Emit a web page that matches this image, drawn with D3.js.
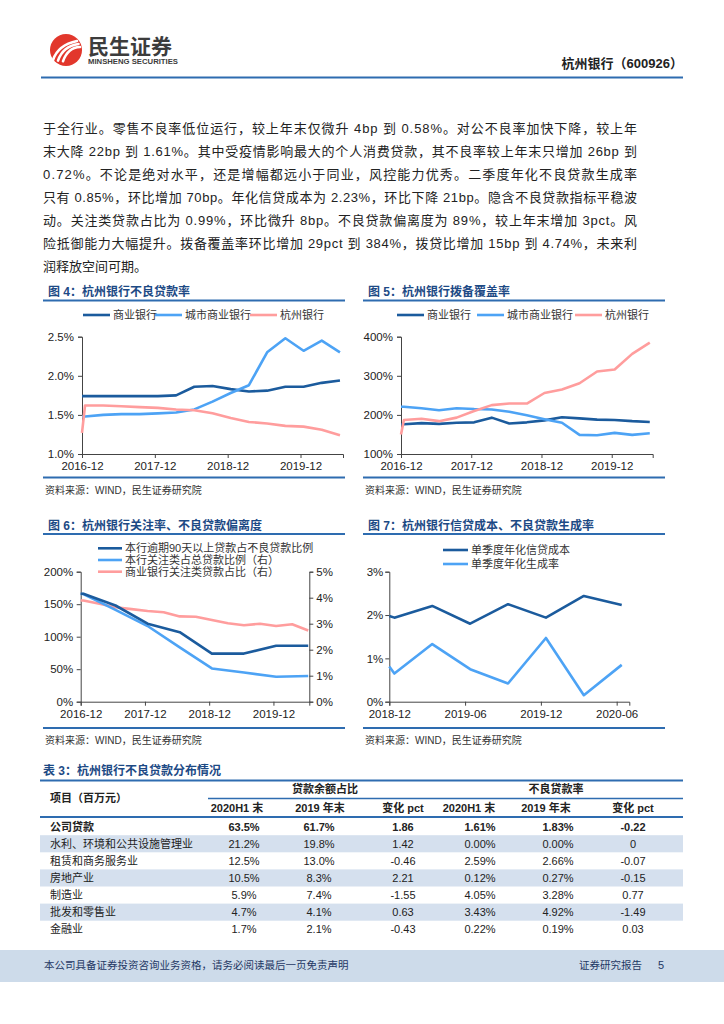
<!DOCTYPE html>
<html><head><meta charset="utf-8">
<script src="https://cdn.jsdelivr.net/npm/d3@7"></script>
<style>
html,body{margin:0;padding:0;background:#fff;}
svg{display:block;}
text{font-family:"Liberation Sans","Noto Sans CJK SC",sans-serif;}
</style></head><body>
<svg id="page" width="724" height="1024"></svg>
<script>
// ---------------- DATA ----------------
// Fig 4: NPL ratio (%), quarterly
const f4Dates = ["2016-12","2017-03","2017-06","2017-09","2017-12","2018-03","2018-06","2018-09","2018-12","2019-03","2019-06","2019-09","2019-12","2020-03","2020-06"];
const f4Ticks = ["2016-12","2017-12","2018-12","2019-12"];
const f4Commercial = [1.74,1.74,1.74,1.74,1.74,1.75,1.86,1.87,1.83,1.80,1.81,1.86,1.86,1.91,1.94];
const f4CityComm  = [1.48,1.50,1.51,1.51,1.52,1.53,1.57,1.67,1.78,1.88,2.30,2.48,2.32,2.45,2.30];
const f4Hangzhou  = [1.62,1.62,1.61,1.60,1.59,1.57,1.56,1.52,1.46,1.41,1.39,1.36,1.35,1.31,1.24];
const f4Start = [1.74,1.48,1.27];
const f4YTicks = [1.0,1.5,2.0,2.5];

// Fig 5: provision coverage (%), quarterly
const f5Dates = f4Dates;
const f5Ticks = ["2016-12","2017-12","2018-12","2019-12"];
const f5Commercial = [176,179,177,180,181,193,178,181,186,194,191,188,187,184,182];
const f5CityComm  = [221,217,212,217,215,214,208,199,189,180,149,148,154,149,153];
const f5Hangzhou  = [187,190,184,193,210,225,229,229,256,265,281,311,316,356,385];
const f5Start = [176,221,150];
const f5YTicks = [100,200,300,400];

// Fig 6
const f6HalfDates = ["2016-12","2017-06","2017-12","2018-06","2018-12","2019-06","2019-12","2020-06"];
const f6QDates = f4Dates;
const f6Ticks = ["2016-12","2017-12","2018-12","2019-12"];
const f6Overdue90 = [166,148,120,107,74,74,86,86];          // left axis, %
const f6SpecialMention = [4.14,3.53,2.91,2.09,1.28,1.12,0.96,0.99]; // right axis, %
const f6IndustrySM = [3.89,3.77,3.63,3.56,3.49,3.44,3.28,3.27,3.14,3.02,2.94,3.00,2.91,2.98,2.74]; // right, %
const f6YTicksL = [0,50,100,150,200];
const f6YTicksR = [0,1,2,3,4,5];

// Fig 7
const f7Dates = ["2018-12","2019-03","2019-06","2019-09","2019-12","2020-03","2020-06"];
const f7Ticks = ["2018-12","2019-06","2019-12","2020-06"];
const f7CreditCost = [1.94,2.21,1.80,2.25,1.94,2.44,2.23];
const f7NplFormation = [0.65,1.33,0.75,0.42,1.47,0.15,0.85];
const f7Start = [1.98,0.81];
const f7YTicks = [0,1,2,3];

// Table 3
const tblItems = ["公司贷款","水利、环境和公共设施管理业","租赁和商务服务业","房地产业","制造业","批发和零售业","金融业"];
const tblShare20 = [63.5,21.2,12.5,10.5,5.9,4.7,1.7];
const tblShare19 = [61.7,19.8,13.0,8.3,7.4,4.1,2.1];
const tblShareChg = [1.86,1.42,-0.46,2.21,-1.55,0.63,-0.43];
const tblNpl20 = [1.61,0.00,2.59,0.12,4.05,3.43,0.22];
const tblNpl19 = [1.83,0.00,2.66,0.27,3.28,4.92,0.19];
const tblNplChg = [-0.22,0,-0.07,-0.15,0.77,-1.49,0.03];

const bodyLines = [
 "于全行业。零售不良率低位运行，较上年末仅微升 4bp 到 0.58%。对公不良率加快下降，较上年",
 "末大降 22bp 到 1.61%。其中受疫情影响最大的个人消费贷款，其不良率较上年末只增加 26bp 到",
 "0.72%。不论是绝对水平，还是增幅都远小于同业，风控能力优秀。二季度年化不良贷款生成率",
 "只有 0.85%，环比增加 70bp。年化信贷成本为 2.23%，环比下降 21bp。隐含不良贷款指标平稳波",
 "动。关注类贷款占比为 0.99%，环比微升 8bp。不良贷款偏离度为 89%，较上年末增加 3pct。风",
 "险抵御能力大幅提升。拨备覆盖率环比增加 29pct 到 384%，拨贷比增加 15bp 到 4.74%，未来利",
 "润释放空间可期。"
];

// ---------------- DRAW ----------------
const svg = d3.select("#page");
const NAVY="#1d4a85", BLUE="#2e6cb0";
const C_DARK="#1b5b9d", C_LIGHT="#4da3f5", C_PINK="#ff9d9d";
const mIdx=(s,base)=>{const [y,m]=s.split("-").map(Number);const [by,bm]=base.split("-").map(Number);return (y-by)*12+(m-bm);};

// Header
const logo = svg.append("g");
logo.append("circle").attr("cx",66).attr("cy",50).attr("r",16).attr("fill","#e2372c");
[[0,0],[5,3],[10,6]].forEach(([dx,dy])=>{
  logo.append("path").attr("d",`M${53+dx},${60+dy*0.2} Q${58+dx},${45+dy*0.4} ${77+dx*0.3},${41+dy}`)
    .attr("fill","none").attr("stroke","#fff").attr("stroke-width",2.6).attr("stroke-linecap","round");
});
svg.append("text").attr("x",88).attr("y",54).attr("font-size",21).attr("font-weight","bold").attr("fill","#3c3c3c")
  .attr("font-family","Noto Sans CJK SC").text("民生证券");
svg.append("text").attr("x",88).attr("y",63.5).attr("font-size",7.6).attr("font-weight","bold").attr("fill","#3c3c3c")
  .attr("textLength",90).attr("lengthAdjust","spacingAndGlyphs").text("MINSHENG SECURITIES");
svg.append("text").attr("x",683).attr("y",68).attr("text-anchor","end").attr("font-size",13).attr("font-weight","bold").attr("fill","#222")
  .text("杭州银行（600926）");
svg.append("line").attr("x1",41).attr("x2",683).attr("y1",77.5).attr("y2",77.5).attr("stroke",BLUE).attr("stroke-width",2);

// Body text
const bodyEnd = 637;
bodyLines.forEach((t,i)=>{
  const tx = svg.append("text").attr("x",43).attr("y",132.5+i*23).attr("font-size",13).attr("fill","#222").text(t);
  if(i<bodyLines.length-1) tx.attr("textLength",bodyEnd-43).attr("lengthAdjust","spacing");
});

// Chart frame helper
function frame(x0,x1,titleY,lineY,srcLineY,srcY,title){
  svg.append("text").attr("x",x0+5).attr("y",titleY+4.5).attr("font-size",12).attr("font-weight","bold").attr("fill",NAVY).text(title);
  svg.append("line").attr("x1",x0).attr("x2",x1).attr("y1",lineY).attr("y2",lineY).attr("stroke",BLUE).attr("stroke-width",1.8);
  svg.append("line").attr("x1",x0).attr("x2",x1).attr("y1",srcLineY).attr("y2",srcLineY).attr("stroke",BLUE).attr("stroke-width",1.8);
  svg.append("text").attr("x",x0+2).attr("y",srcY+3.5).attr("font-size",10).attr("fill","#333").text("资料来源：WIND，民生证券研究院");
}
function legendRow(items,y){
  items.forEach(it=>{
    svg.append("line").attr("x1",it.x).attr("x2",it.x+it.w).attr("y1",y).attr("y2",y).attr("stroke",it.color).attr("stroke-width",2.6);
    svg.append("text").attr("x",it.x+it.w+3).attr("y",y+4).attr("font-size",11).attr("fill","#333").text(it.label);
  });
}
function styleAxis(a){
  a.select(".domain").attr("stroke","#444");
  a.selectAll(".tick line").attr("stroke","#444");
  a.selectAll(".tick text").attr("fill","#222").attr("font-size",11.5).attr("font-family","Liberation Sans");
}
function lineChart(o){
  const x=d3.scaleLinear().domain([0,o.xMax]).range([o.x0,o.x1]);
  const y=d3.scaleLinear().domain(o.yDom).range([o.yB,o.yT]);
  const yR=o.yRDom?d3.scaleLinear().domain(o.yRDom).range([o.yB,o.yT]):null;
  const g=svg.append("g");
  const ax=g.append("g").attr("transform",`translate(0,${o.yB})`)
    .call(d3.axisBottom(x).tickValues(o.xTicks.map(t=>mIdx(t,o.base))).tickFormat((d,i)=>o.xTicks[i]).tickSizeOuter(0).tickSize(4).tickPadding(4));
  styleAxis(ax);
  const ay=g.append("g").attr("transform",`translate(${o.x0},0)`)
    .call(d3.axisLeft(y).tickValues(o.yTicks).tickFormat(o.yFmt).tickSizeOuter(0).tickSize(4).tickPadding(o.yPad||4));
  styleAxis(ay);
  if(yR){
    const ar=g.append("g").attr("transform",`translate(${o.x1},0)`)
      .call(d3.axisRight(yR).tickValues(o.yRTicks).tickFormat(o.yRFmt).tickSizeOuter(0).tickSize(4).tickPadding(3));
    styleAxis(ar);
  }
  o.series.forEach(s=>{
    const pts=[];
    if(s.start!=null) pts.push([0,s.start]);
    s.dates.forEach((d,i)=>pts.push([mIdx(d,o.base)+o.shift,s.values[i]]));
    const sc=s.right?yR:y;
    g.append("path").attr("d",d3.line().x(p=>x(p[0])).y(p=>sc(p[1]))(pts))
      .attr("fill","none").attr("stroke",s.color).attr("stroke-width",2.6).attr("stroke-linejoin","round");
  });
}

// Fig 4
frame(43,345,291,300.5,477.5,490.7,"图 4：杭州银行不良贷款率");
legendRow([{x:83,w:27,color:C_DARK,label:"商业银行"},{x:155,w:27,color:C_LIGHT,label:"城市商业银行"},{x:250,w:27,color:C_PINK,label:"杭州银行"}],315);
lineChart({x0:82,x1:343,yT:336.7,yB:454,yDom:[1.0,2.5],yTicks:f4YTicks,yFmt:d=>d.toFixed(1)+"%",base:"2016-12",xMax:43,xTicks:f4Ticks,shift:0.5,
  series:[{dates:f4Dates,values:f4Commercial,start:f4Start[0],color:C_DARK},
          {dates:f4Dates,values:f4CityComm,start:f4Start[1],color:C_LIGHT},
          {dates:f4Dates,values:f4Hangzhou,start:f4Start[2],color:C_PINK}]});

// Fig 5
frame(363,665,291,300.5,477.5,490.7,"图 5：杭州银行拨备覆盖率");
legendRow([{x:397,w:27,color:C_DARK,label:"商业银行"},{x:477,w:27,color:C_LIGHT,label:"城市商业银行"},{x:575,w:27,color:C_PINK,label:"杭州银行"}],315);
lineChart({x0:401,x1:652.7,yT:336.7,yB:454,yDom:[100,400],yTicks:f5YTicks,yFmt:d=>d+"%",base:"2016-12",xMax:43,xTicks:f5Ticks,shift:0.5,
  series:[{dates:f5Dates,values:f5Commercial,start:f5Start[0],color:C_DARK},
          {dates:f5Dates,values:f5CityComm,start:f5Start[1],color:C_LIGHT},
          {dates:f5Dates,values:f5Hangzhou,start:f5Start[2],color:C_PINK}]});

// Fig 6
frame(43,345,525,534,728,740,"图 6：杭州银行关注率、不良贷款偏离度");
[{c:C_DARK,t:"本行逾期90天以上贷款占不良贷款比例",y:548.3},{c:C_LIGHT,t:"本行关注类占总贷款比例（右）",y:560},{c:C_PINK,t:"商业银行关注类贷款占比（右）",y:571.7}]
  .forEach(r=>legendRow([{x:98,w:24,color:r.c,label:r.t}],r.y));
lineChart({x0:80.7,x1:309.3,yT:571.7,yB:701.7,yDom:[0,200],yTicks:f6YTicksL,yFmt:d=>d+"%",yPad:3.5,
  yRDom:[0,5],yRTicks:f6YTicksR,yRFmt:d=>d+"%",base:"2016-12",xMax:42.7,xTicks:f6Ticks,shift:0.5,
  series:[{dates:f6QDates,values:f6IndustrySM,start:f6IndustrySM[0],right:true,color:C_PINK},
          {dates:f6HalfDates,values:f6SpecialMention,start:f6SpecialMention[0],right:true,color:C_LIGHT},
          {dates:f6HalfDates,values:f6Overdue90,start:f6Overdue90[0],color:C_DARK}]});

// Fig 7
frame(363,665,525,534,728,740,"图 7：杭州银行信贷成本、不良贷款生成率");
legendRow([{x:443,w:25,color:C_DARK,label:"单季度年化信贷成本"}],550);
legendRow([{x:443,w:25,color:C_LIGHT,label:"单季度年化生成率"}],564);
lineChart({x0:389.3,x1:629.3,yT:571.7,yB:701.7,yDom:[0,3],yTicks:f7YTicks,yFmt:d=>d+"%",yPad:2,base:"2018-12",xMax:19,xTicks:f7Ticks,shift:0.4,
  series:[{dates:f7Dates,values:f7CreditCost,start:f7Start[0],color:C_DARK},
          {dates:f7Dates,values:f7NplFormation,start:f7Start[1],color:C_LIGHT}]});

// Table 3
const TX0=40, TX1=683;
svg.append("text").attr("x",43).attr("y",775).attr("font-size",12).attr("font-weight","bold").attr("fill",NAVY).text("表 3：杭州银行不良贷款分布情况");
const rowY0=826.6, rowH=17.1;
tblItems.forEach((d,i)=>{
  if(i%2===1) svg.append("rect").attr("x",TX0).attr("y",rowY0+i*rowH-8.5).attr("width",TX1-TX0).attr("height",rowH).attr("fill","#d5e0ee");
});
svg.append("line").attr("x1",TX0).attr("x2",TX1).attr("y1",780.5).attr("y2",780.5).attr("stroke",BLUE).attr("stroke-width",2);
svg.append("line").attr("x1",208).attr("x2",TX1).attr("y1",798.5).attr("y2",798.5).attr("stroke",BLUE).attr("stroke-width",1.5);
svg.append("line").attr("x1",TX0).attr("x2",TX1).attr("y1",817).attr("y2",817).attr("stroke",BLUE).attr("stroke-width",2);
const th=(x,y,t,anchor)=>svg.append("text").attr("x",x).attr("y",y+4).attr("text-anchor",anchor||"middle").attr("font-size",11).attr("font-weight","bold").attr("fill","#222").text(t);
th(50,798,"项目（百万元）","start");
th(325,788.5,"贷款余额占比");
th(556,788.5,"不良贷款率");
[[237,"2020H1 末"],[320,"2019 年末"],[403,"变化 pct"],[469,"2020H1 末"],[546,"2019 年末"],[633,"变化 pct"]].forEach(([x,t])=>th(x,808,t));
const fPct1=d=>d.toFixed(1)+"%", fPct2=d=>d.toFixed(2)+"%", fChg=d=>d===0?"0":d.toFixed(2);
const cols=[[244,tblShare20,fPct1],[319,tblShare19,fPct1],[403,tblShareChg,fChg],[480,tblNpl20,fPct2],[558,tblNpl19,fPct2],[633,tblNplChg,fChg]];
tblItems.forEach((d,i)=>{
  const y=rowY0+i*rowH+4, b=i===0?"bold":"normal";
  svg.append("text").attr("x",50).attr("y",y).attr("font-size",11).attr("font-weight",b).attr("fill","#222").text(d);
  cols.forEach(([x,arr,f])=>svg.append("text").attr("x",x).attr("y",y).attr("text-anchor","middle").attr("font-size",11).attr("font-weight",b).attr("fill","#222").text(f(arr[i])));
});

// Footer
svg.append("rect").attr("x",0).attr("y",950).attr("width",724).attr("height",32).attr("fill","#cddbea");
svg.append("text").attr("x",44).attr("y",969).attr("font-size",10.5).attr("fill","#1f3864").text("本公司具备证券投资咨询业务资格，请务必阅读最后一页免责声明");
svg.append("text").attr("x",579).attr("y",969).attr("font-size",10.5).attr("fill","#1f3864").text("证券研究报告");
svg.append("text").attr("x",658).attr("y",969).attr("font-size",11).attr("fill","#1f3864").text("5");
</script></body></html>
